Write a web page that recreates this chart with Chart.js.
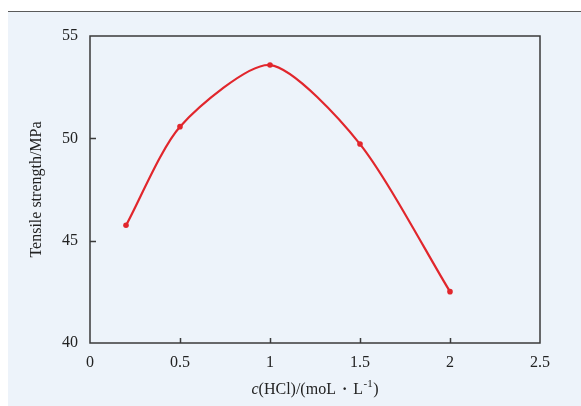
<!DOCTYPE html>
<html><head><meta charset="utf-8">
<script src="https://cdn.jsdelivr.net/npm/chart.js@4"></script>
<style>html,body{margin:0;padding:0;background:#fff;}#wrap{width:581px;height:406px;}</style>
</head><body><div id="wrap"><canvas id="c" width="581" height="406"></canvas></div>
<script>
const concentrations = [0.2, 0.5, 1.0, 1.5, 2.0];
const tensileStrength = [45.75, 50.57, 53.58, 49.72, 42.51];
const xTickLabels = ['0', '0.5', '1', '1.5', '2', '2.5'];
const yTickLabels = ['40', '45', '50', '55'];
const yTitle = 'Tensile strength/MPa';
const xTitleParts = ['c', '(HCl)/(moL', '\u00b7', 'L', '-1', ')'];

const SERIF = '"Liberation Serif", "DejaVu Serif", serif';
const FRAME = '#3a3a3a';

const decor = {
  id: 'decor',
  beforeDraw(chart) {
    const ctx = chart.ctx;
    ctx.save();
    ctx.fillStyle = '#ffffff';
    ctx.fillRect(0, 0, chart.width, chart.height);
    ctx.fillStyle = '#edf3fa';
    ctx.fillRect(8, 12, chart.width - 8, chart.height - 12);
    ctx.strokeStyle = '#5a5a5a';
    ctx.lineWidth = 1.2;
    ctx.beginPath();
    ctx.moveTo(8, 11.5);
    ctx.lineTo(chart.width, 11.5);
    ctx.stroke();
    ctx.restore();
  },
  afterDraw(chart) {
    const ctx = chart.ctx;
    const a = chart.chartArea;
    const xs = chart.scales.x, ys = chart.scales.y;
    ctx.save();
    ctx.strokeStyle = FRAME;
    ctx.lineWidth = 1.5;
    ctx.strokeRect(a.left, a.top, a.right - a.left, a.bottom - a.top);
    ctx.beginPath();
    xs.ticks.forEach(t => {
      if (t.value <= xs.min || t.value >= xs.max) return;
      const px = Math.round(xs.getPixelForValue(t.value)) + 0.5;
      ctx.moveTo(px, a.bottom);
      ctx.lineTo(px, a.bottom - 5);
    });
    ys.ticks.forEach(t => {
      if (t.value <= ys.min || t.value >= ys.max) return;
      const py = Math.round(ys.getPixelForValue(t.value)) + 0.5;
      ctx.moveTo(a.left, py);
      ctx.lineTo(a.left + 6, py);
    });
    ctx.stroke();

    // x-axis title with italic c and superscript
    const base = '16px ' + SERIF;
    const ital = 'italic 16px ' + SERIF;
    const sup = '11px ' + SERIF;
    const pieces = [
      {t: xTitleParts[0], f: ital, dy: 0, gap: 0},
      {t: xTitleParts[1], f: base, dy: 0, gap: 0},
      {t: xTitleParts[2], f: 'bold 16px ' + SERIF, dy: 0, gap: 6},
      {t: xTitleParts[3], f: base, dy: 0, gap: 6},
      {t: xTitleParts[4], f: sup, dy: -6, gap: 0.5},
      {t: xTitleParts[5], f: base, dy: 0, gap: 0.5}
    ];
    let total = 0;
    pieces.forEach(p => { ctx.font = p.f; p.w = ctx.measureText(p.t).width; total += p.gap + p.w; });
    let x = (a.left + a.right) / 2 - total / 2;
    const y = 390;
    ctx.fillStyle = '#222';
    ctx.textBaseline = 'middle';
    ctx.textAlign = 'left';
    pieces.forEach(p => {
      x += p.gap;
      ctx.font = p.f;
      ctx.fillText(p.t, x, y + p.dy);
      x += p.w;
    });
    ctx.restore();
  }
};

new Chart(document.getElementById('c'), {
  type: 'line',
  data: {
    datasets: [{
      data: concentrations.map((c, i) => ({x: c, y: tensileStrength[i]})),
      borderColor: '#e1262c',
      backgroundColor: '#e1262c',
      borderWidth: 2.2,
      pointRadius: 2.8,
      pointHoverRadius: 2.8,
      pointBorderWidth: 0,
      tension: 0.25,
      fill: false
    }]
  },
  options: {
    responsive: false,
    animation: false,
    devicePixelRatio: 1,
    layout: {padding: {left: 0, right: 41, top: 36, bottom: 0}},
    plugins: {legend: {display: false}, tooltip: {enabled: false}},
    scales: {
      x: {
        type: 'linear', min: 0, max: 2.5,
        afterFit(s) { s.height = 63; },
        grid: {display: false, drawTicks: false},
        border: {display: false},
        ticks: {
          stepSize: 0.5, padding: 10, color: '#222',
          font: {family: SERIF, size: 16},
          callback: (v, i) => xTickLabels[i]
        },
        title: {display: false}
      },
      y: {
        min: 40, max: 55,
        afterFit(s) { s.width = 90; },
        grid: {display: false, drawTicks: false},
        border: {display: false},
        ticks: {
          stepSize: 5, padding: 12, color: '#222',
          font: {family: SERIF, size: 16},
          callback: (v, i) => yTickLabels[i]
        },
        title: {
          display: true, text: yTitle, color: '#222',
          font: {family: SERIF, size: 16},
          padding: {top: 27, bottom: 0}
        }
      }
    }
  },
  plugins: [decor]
});
</script></body></html>
